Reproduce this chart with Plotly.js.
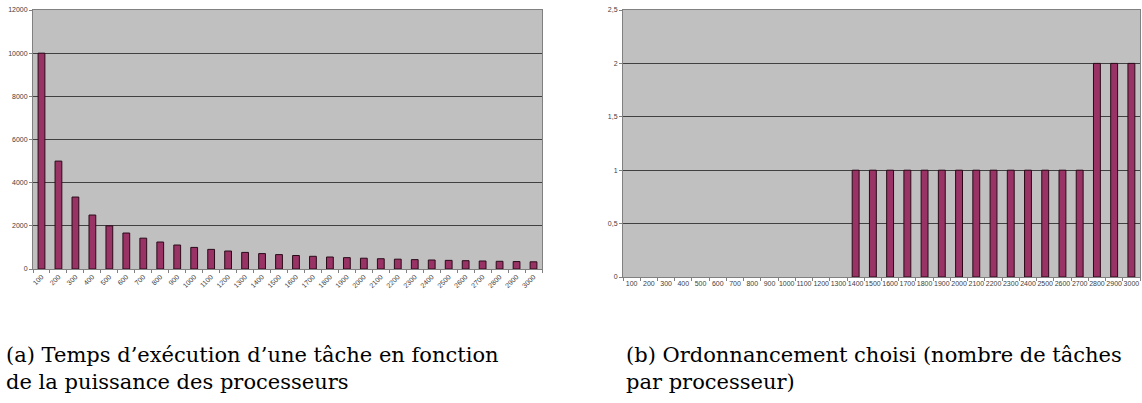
<!DOCTYPE html>
<html><head><meta charset="utf-8">
<script src="https://cdn.plot.ly/plotly-3.0.1.min.js"></script>
<style>html,body{margin:0;padding:0;background:#fff}#c{width:1142px;height:403px}</style>
</head><body><div id="c"></div>
<script>
const processeurs = ["100","200","300","400","500","600","700","800","900","1000","1100","1200","1300","1400","1500","1600","1700","1800","1900","2000","2100","2200","2300","2400","2500","2600","2700","2800","2900","3000"];
const tempsExecution = [10000,5000,3333,2500,2000,1667,1429,1250,1111,1000,909,833,769,714,667,625,588,556,526,500,476,455,435,417,400,385,370,357,345,333];
const nbTaches = [0,0,0,0,0,0,0,0,0,0,0,0,0,1,1,1,1,1,1,1,1,1,1,1,1,1,1,2,2,2];
const yTicksA = [0,2000,4000,6000,8000,10000,12000];
const yTicksB = [0,0.5,1,1.5,2,2.5];
const yTickTextB = ["0","0,5","1","1,5","2","2,5"];
const captionA = "(a) Temps d’exécution d’une tâche en fonction<br>de la puissance des processeurs";
const captionB = "(b) Ordonnancement choisi (nombre de tâches<br>par processeur)";

const H = 403, W = 1142;
const barColor = "#993366";
const tickFont = {family:"Liberation Sans, Arial, sans-serif", size:7, color:"#404040"};
const capFont = {family:"DejaVu Serif, serif", size:21, color:"#000"};

const traces = [
  {type:"bar", x:processeurs, y:tempsExecution, xaxis:"x", yaxis:"y",
   marker:{color:barColor, line:{color:"#2a0a18", width:1}}, hoverinfo:"x+y"},
  {type:"bar", x:processeurs, y:nbTaches, xaxis:"x2", yaxis:"y2",
   marker:{color:barColor, line:{color:"#2a0a18", width:nbTaches.map(v => v > 0 ? 1 : 0)}}, hoverinfo:"x+y"}
];

const axBase = {showline:true, linecolor:"#808080", linewidth:1, mirror:true,
  ticks:"outside", ticklen:3, tickcolor:"#808080", tickfont:tickFont, zeroline:false};

const layout = {
  width:W, height:H, margin:{l:0,r:0,t:0,b:0},
  paper_bgcolor:"#fff", plot_bgcolor:"#c0c0c0",
  showlegend:false, bargap:0.6,
  xaxis:Object.assign({}, axBase, {domain:[33/W, 542/W], type:"category", tickson:"boundaries",
     tickangle:-45, anchor:"y", showgrid:false}),
  yaxis:Object.assign({}, axBase, {domain:[1-269/H, 1-10/H], range:[0,12000], tickvals:yTicksA,
     ticktext:yTicksA.map(String), showgrid:true, gridcolor:"#404040", gridwidth:1, anchor:"x"}),
  xaxis2:Object.assign({}, axBase, {domain:[623/W, 1140/W], type:"category", tickson:"boundaries",
     tickangle:0, anchor:"y2", showgrid:false}),
  yaxis2:Object.assign({}, axBase, {domain:[1-277/H, 1-10/H], range:[0,2.5], tickvals:yTicksB,
     ticktext:yTickTextB, showgrid:true, gridcolor:"#404040", gridwidth:1, anchor:"x2"}),
  annotations:[
    {text:captionA, xref:"paper", yref:"paper", x:4/W, y:1-341/H, xanchor:"left", yanchor:"top",
     align:"left", showarrow:false, font:capFont},
    {text:captionB, xref:"paper", yref:"paper", x:624/W, y:1-341/H, xanchor:"left", yanchor:"top",
     align:"left", showarrow:false, font:capFont}
  ]
};
Plotly.newPlot("c", traces, layout, {displayModeBar:false, staticPlot:true});
</script></body></html>
